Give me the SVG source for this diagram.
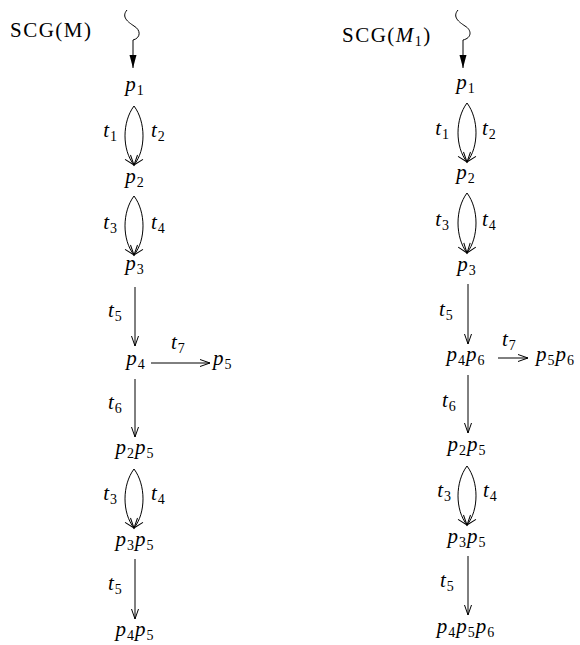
<svg xmlns="http://www.w3.org/2000/svg" width="580" height="645" viewBox="0 0 580 645">
<defs>
<marker id="open" markerUnits="userSpaceOnUse" markerWidth="12" markerHeight="8" refX="10" refY="3.5" orient="auto" overflow="visible">
<path d="M0,0 L10,3.5 L0,7" fill="none" stroke="#000" stroke-width="1"/>
</marker>
<marker id="fill" markerUnits="userSpaceOnUse" markerWidth="14" markerHeight="8" refX="13" refY="3.5" orient="auto" overflow="visible">
<path d="M0,0 L13,3.5 L0,7 Z" fill="#000"/>
</marker>
<style>
text{font-family:"Liberation Serif","DejaVu Serif",serif;font-size:21px;fill:#000;letter-spacing:1px}
.t{letter-spacing:1.5px}
.i{font-style:italic}
.s{font-size:14px;font-style:normal}
.e{stroke:#000;stroke-width:1;fill:none}
.a{marker-end:url(#open)}
</style>
</defs>
<g id="connectors">
<path class="e" d="M127,10 C121,17 128,22 134,26 C141,30 141,38 133,40"/>
<path class="e" d="M133,40 V68" stroke-width="1.3" marker-end="url(#fill)"/>
<path class="e a" d="M134,106 C122,122 122,150 134,165"/>
<path class="e a" d="M134,106 C146,122 146,150 134,165"/>
<path class="e a" d="M134,196 C122,212 122,240 134,255"/>
<path class="e a" d="M134,196 C146,212 146,240 134,255"/>
<path class="e a" d="M135,287 V346"/>
<path class="e a" d="M151,363 H210"/>
<path class="e a" d="M135,379 V437"/>
<path class="e a" d="M134,469 C122,485 122,513 134,528"/>
<path class="e a" d="M134,469 C146,485 146,513 134,528"/>
<path class="e a" d="M135,559 V619"/>

<path class="e" d="M458,10 C452,17 459,22 465,26 C472,30 472,38 463,40"/>
<path class="e" d="M463,40 V68" stroke-width="1.3" marker-end="url(#fill)"/>
<path class="e a" d="M467,103 C455,119 455,147 467,162"/>
<path class="e a" d="M467,103 C479,119 479,147 467,162"/>
<path class="e a" d="M467,193 C455,209 455,237 467,253"/>
<path class="e a" d="M467,193 C479,209 479,237 467,253"/>
<path class="e a" d="M468,284 V344"/>
<path class="e a" d="M498,358 H528"/>
<path class="e a" d="M468,375 V433"/>
<path class="e a" d="M467,466 C455,482 455,510 467,525"/>
<path class="e a" d="M467,466 C479,482 479,510 467,525"/>
<path class="e a" d="M468,556 V615"/>
</g>
<g id="title1"><text class="t" x="10" y="37">SCG(M)</text></g>
<g id="title2"><text class="t" x="342" y="42">SCG(<tspan class="i">M</tspan><tspan class="s" dy="4">1</tspan><tspan dy="-4">)</tspan></text></g>

<g id="L-p1"><text class="i" x="135" y="91" text-anchor="middle">p<tspan class="s" dy="4">1</tspan></text></g>
<g id="L-p2"><text class="i" x="135" y="183" text-anchor="middle">p<tspan class="s" dy="4">2</tspan></text></g>
<g id="L-p3"><text class="i" x="135" y="270" text-anchor="middle">p<tspan class="s" dy="4">3</tspan></text></g>
<g id="L-p4"><text class="i" x="136" y="365" text-anchor="middle">p<tspan class="s" dy="4">4</tspan></text></g>
<g id="L-p5"><text class="i" x="213" y="365">p<tspan class="s" dy="4">5</tspan></text></g>
<g id="L-p2p5"><text class="i" x="135" y="454" text-anchor="middle">p<tspan class="s" dy="4">2</tspan><tspan dy="-4">p</tspan><tspan class="s" dy="4">5</tspan></text></g>
<g id="L-p3p5"><text class="i" x="135" y="546" text-anchor="middle">p<tspan class="s" dy="4">3</tspan><tspan dy="-4">p</tspan><tspan class="s" dy="4">5</tspan></text></g>
<g id="L-p4p5"><text class="i" x="135" y="636" text-anchor="middle">p<tspan class="s" dy="4">4</tspan><tspan dy="-4">p</tspan><tspan class="s" dy="4">5</tspan></text></g>

<g id="L-labels">
<text class="i" x="118" y="137" text-anchor="end">t<tspan class="s" dy="4">1</tspan></text>
<text class="i" x="151" y="137">t<tspan class="s" dy="4">2</tspan></text>
<text class="i" x="118" y="229" text-anchor="end">t<tspan class="s" dy="4">3</tspan></text>
<text class="i" x="151" y="229">t<tspan class="s" dy="4">4</tspan></text>
<text class="i" x="108" y="317">t<tspan class="s" dy="4">5</tspan></text>
<text class="i" x="171" y="349">t<tspan class="s" dy="4">7</tspan></text>
<text class="i" x="108" y="409">t<tspan class="s" dy="4">6</tspan></text>
<text class="i" x="118" y="500" text-anchor="end">t<tspan class="s" dy="4">3</tspan></text>
<text class="i" x="151" y="500">t<tspan class="s" dy="4">4</tspan></text>
<text class="i" x="108" y="590">t<tspan class="s" dy="4">5</tspan></text>
</g>

<g id="R-p1"><text class="i" x="466" y="89" text-anchor="middle">p<tspan class="s" dy="4">1</tspan></text></g>
<g id="R-p2"><text class="i" x="466" y="179" text-anchor="middle">p<tspan class="s" dy="4">2</tspan></text></g>
<g id="R-p3"><text class="i" x="467" y="271" text-anchor="middle">p<tspan class="s" dy="4">3</tspan></text></g>
<g id="R-p4p6"><text class="i" x="466" y="361" text-anchor="middle">p<tspan class="s" dy="4">4</tspan><tspan dy="-4">p</tspan><tspan class="s" dy="4">6</tspan></text></g>
<g id="R-p5p6"><text class="i" x="536" y="361">p<tspan class="s" dy="4">5</tspan><tspan dy="-4">p</tspan><tspan class="s" dy="4">6</tspan></text></g>
<g id="R-p2p5"><text class="i" x="467" y="451" text-anchor="middle">p<tspan class="s" dy="4">2</tspan><tspan dy="-4">p</tspan><tspan class="s" dy="4">5</tspan></text></g>
<g id="R-p3p5"><text class="i" x="467" y="543" text-anchor="middle">p<tspan class="s" dy="4">3</tspan><tspan dy="-4">p</tspan><tspan class="s" dy="4">5</tspan></text></g>
<g id="R-p4p5p6"><text class="i" x="466" y="633" text-anchor="middle">p<tspan class="s" dy="4">4</tspan><tspan dy="-4">p</tspan><tspan class="s" dy="4">5</tspan><tspan dy="-4">p</tspan><tspan class="s" dy="4">6</tspan></text></g>

<g id="R-labels">
<text class="i" x="450" y="135" text-anchor="end">t<tspan class="s" dy="4">1</tspan></text>
<text class="i" x="482" y="135">t<tspan class="s" dy="4">2</tspan></text>
<text class="i" x="450" y="226" text-anchor="end">t<tspan class="s" dy="4">3</tspan></text>
<text class="i" x="482" y="226">t<tspan class="s" dy="4">4</tspan></text>
<text class="i" x="439" y="316">t<tspan class="s" dy="4">5</tspan></text>
<text class="i" x="502" y="346">t<tspan class="s" dy="4">7</tspan></text>
<text class="i" x="442" y="407">t<tspan class="s" dy="4">6</tspan></text>
<text class="i" x="452" y="497" text-anchor="end">t<tspan class="s" dy="4">3</tspan></text>
<text class="i" x="483" y="497">t<tspan class="s" dy="4">4</tspan></text>
<text class="i" x="440" y="587">t<tspan class="s" dy="4">5</tspan></text>
</g>
</svg>
